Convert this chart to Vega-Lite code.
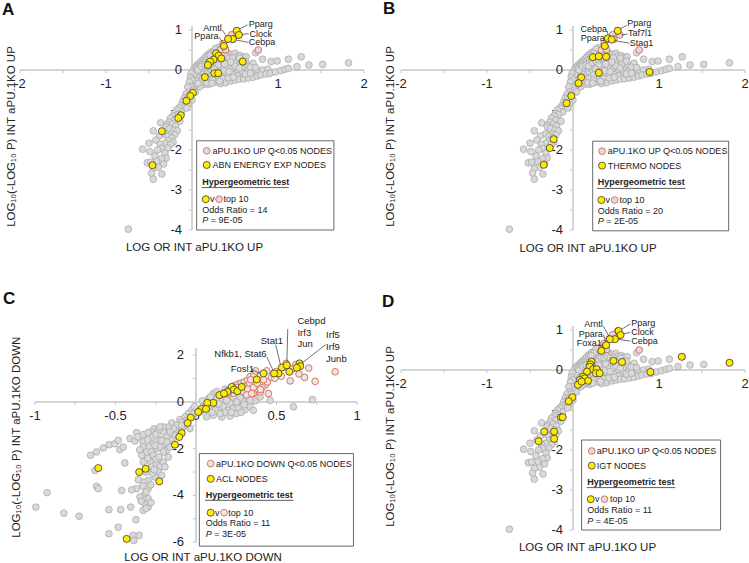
{
"$schema":"https://vega.github.io/schema/vega-lite/v6.json",
"padding":{"left":2,"top":0,"right":0,"bottom":0},
"config":{"font":"Liberation Sans","view":{"stroke":null},"axis":{"titleFontSize":11.5,"titleFontWeight":"normal","titleColor":"#222","domain":false,"ticks":false,"labels":false,"grid":false,"titleBaseline":"middle"},"title":{"color":"#111","fontSize":17,"fontWeight":"bold","anchor":"start","frame":"group","baseline":"alphabetic"}},
"datasets":{
"one":[{}],
"up":[{"x":0.02,"y":0.03},{"x":0.04,"y":0.08},{"x":0.06,"y":0.12},{"x":0.08,"y":0.16},{"x":0.1,"y":0.2},{"x":0.12,"y":0.24},{"x":0.14,"y":0.28},{"x":0.16,"y":0.33},{"x":0.18,"y":0.37},{"x":0.2,"y":0.4},{"x":0.22,"y":0.44},{"x":0.25,"y":0.47},{"x":0.28,"y":0.5},{"x":0.31,"y":0.53},{"x":0.34,"y":0.5},{"x":0.38,"y":0.45},{"x":0.42,"y":0.42},{"x":0.46,"y":0.38},{"x":0.5,"y":0.42},{"x":0.52,"y":0.34},{"x":0.56,"y":0.36},{"x":0.6,"y":0.32},{"x":0.63,"y":0.33},{"x":0.54,"y":0.25},{"x":0.49,"y":0.21},{"x":0.45,"y":0.27},{"x":0.41,"y":0.32},{"x":0.37,"y":0.36},{"x":0.33,"y":0.4},{"x":0.29,"y":0.43},{"x":0.26,"y":0.38},{"x":0.23,"y":0.33},{"x":0.2,"y":0.29},{"x":0.17,"y":0.24},{"x":0.14,"y":0.19},{"x":0.11,"y":0.14},{"x":0.08,"y":0.09},{"x":0.06,"y":0.04},{"x":0.1,"y":0.06},{"x":0.13,"y":0.1},{"x":0.16,"y":0.15},{"x":0.19,"y":0.19},{"x":0.22,"y":0.22},{"x":0.26,"y":0.26},{"x":0.3,"y":0.3},{"x":0.34,"y":0.25},{"x":0.38,"y":0.22},{"x":0.42,"y":0.2},{"x":0.44,"y":0.12},{"x":0.4,"y":0.1},{"x":0.36,"y":0.12},{"x":0.32,"y":0.16},{"x":0.28,"y":0.17},{"x":0.24,"y":0.13},{"x":0.2,"y":0.09},{"x":0.16,"y":0.05},{"x":0.12,"y":0.0},{"x":0.09,"y":-0.04},{"x":0.14,"y":-0.05},{"x":0.18,"y":0.0},{"x":0.22,"y":0.04},{"x":0.27,"y":0.07},{"x":0.31,"y":0.06},{"x":0.35,"y":0.04},{"x":0.41,"y":0.08},{"x":0.47,"y":0.04},{"x":0.53,"y":0.0},{"x":0.59,"y":-0.04},{"x":0.65,"y":0.0},{"x":0.71,"y":0.0},{"x":0.76,"y":-0.02},{"x":0.82,"y":0.0},{"x":0.88,"y":0.02},{"x":0.59,"y":0.08},{"x":0.65,"y":0.12},{"x":0.71,"y":0.17},{"x":0.57,"y":0.15},{"x":0.5,"y":0.1},{"x":0.47,"y":-0.1},{"x":0.53,"y":-0.15},{"x":0.4,"y":-0.07},{"x":0.33,"y":-0.12},{"x":0.27,"y":-0.1},{"x":0.21,"y":-0.06},{"x":0.17,"y":-0.1},{"x":0.12,"y":-0.12},{"x":0.06,"y":-0.08},{"x":0.03,"y":-0.12},{"x":0.08,"y":-0.2},{"x":0.14,"y":-0.18},{"x":0.2,"y":-0.17},{"x":0.25,"y":-0.2},{"x":0.3,"y":-0.23},{"x":0.36,"y":-0.22},{"x":0.27,"y":-0.3},{"x":0.21,"y":-0.28},{"x":0.15,"y":-0.27},{"x":0.1,"y":-0.3},{"x":0.05,"y":-0.27},{"x":0.13,"y":-0.36},{"x":0.19,"y":-0.36},{"x":0.09,"y":-0.42},{"x":0.04,"y":-0.38},{"x":0.39,"y":-0.32},{"x":0.33,"y":-0.34},{"x":0.45,"y":-0.275},{"x":0.5,"y":-0.25},{"x":0.55,"y":-0.23},{"x":0.6,"y":-0.22},{"x":0.655,"y":-0.2},{"x":0.71,"y":-0.18},{"x":0.76,"y":-0.15},{"x":0.8,"y":-0.125},{"x":0.86,"y":-0.1},{"x":0.91,"y":-0.083},{"x":0.97,"y":-0.05},{"x":1.03,"y":-0.017},{"x":1.08,"y":0.017},{"x":1.12,"y":0.04},{"x":1.22,"y":0.083},{"x":0.74,"y":0.43},{"x":0.82,"y":0.27},{"x":0.92,"y":0.21},{"x":0.99,"y":0.225},{"x":1.12,"y":0.27},{"x":1.27,"y":0.33},{"x":1.36,"y":0.125},{"x":1.52,"y":0.14},{"x":1.82,"y":0.18},{"x":0.3,"y":0.56},{"x":0.27,"y":0.53},{"x":0.07,"y":0.0},{"x":0.11,"y":0.09},{"x":0.15,"y":0.12},{"x":0.18,"y":0.1},{"x":0.23,"y":0.18},{"x":0.27,"y":0.21},{"x":0.3,"y":0.25},{"x":0.33,"y":0.31},{"x":0.36,"y":0.3},{"x":0.39,"y":0.35},{"x":0.43,"y":0.3},{"x":0.47,"y":0.3},{"x":0.45,"y":0.2},{"x":0.38,"y":0.15},{"x":0.3,"y":0.12},{"x":0.26,"y":0.02},{"x":0.3,"y":-0.05},{"x":0.37,"y":-0.02},{"x":0.43,"y":-0.04},{"x":0.24,"y":-0.12},{"x":0.18,"y":-0.22},{"x":0.24,"y":-0.25},{"x":0.32,"y":-0.28},{"x":0.42,"y":-0.2},{"x":0.48,"y":-0.18},{"x":0.12,"y":-0.22},{"x":0.07,"y":-0.33},{"x":0.17,"y":-0.32},{"x":0.23,"y":-0.33},{"x":0.35,"y":0.44},{"x":0.24,"y":0.42},{"x":0.21,"y":0.36},{"x":0.55,"y":0.3},{"x":0.62,"y":0.22},{"x":0.68,"y":0.07},{"x":0.74,"y":0.06},{"x":0.55,"y":0.05},{"x":0.62,"y":-0.1},{"x":0.68,"y":-0.08},{"x":-0.01,"y":-0.08},{"x":-0.02,"y":-0.18},{"x":0.0,"y":-0.25},{"x":-0.03,"y":-0.3},{"x":-0.01,"y":-0.42},{"x":-0.05,"y":-0.42},{"x":-0.04,"y":-0.55},{"x":-0.07,"y":-0.6},{"x":-0.09,"y":-0.7},{"x":-0.06,"y":-0.72},{"x":-0.11,"y":-0.8},{"x":-0.08,"y":-0.85},{"x":-0.13,"y":-0.9},{"x":-0.1,"y":-0.95},{"x":-0.15,"y":-0.95},{"x":-0.12,"y":-1.05},{"x":-0.18,"y":-1.0},{"x":-0.2,"y":-1.08},{"x":-0.17,"y":-1.12},{"x":-0.22,"y":-1.15},{"x":-0.25,"y":-1.2},{"x":-0.2,"y":-1.25},{"x":-0.14,"y":-1.28},{"x":-0.27,"y":-1.3},{"x":-0.23,"y":-1.35},{"x":-0.365,"y":-1.32},{"x":-0.295,"y":-1.375},{"x":-0.3,"y":-1.42},{"x":-0.19,"y":-1.4},{"x":-0.26,"y":-1.46},{"x":-0.45,"y":-1.52},{"x":-0.21,"y":-1.5},{"x":-0.17,"y":-1.52},{"x":-0.32,"y":-1.6},{"x":-0.24,"y":-1.6},{"x":-0.2,"y":-1.62},{"x":-0.38,"y":-1.65},{"x":-0.28,"y":-1.66},{"x":-0.237,"y":-1.7},{"x":-0.42,"y":-1.75},{"x":-0.276,"y":-1.76},{"x":-0.22,"y":-1.8},{"x":-0.5,"y":-1.83},{"x":-0.315,"y":-1.83},{"x":-0.37,"y":-1.86},{"x":-0.25,"y":-1.86},{"x":-0.28,"y":-1.95},{"x":-0.353,"y":-1.96},{"x":-0.575,"y":-1.98},{"x":-0.4,"y":-2.0},{"x":-0.49,"y":-2.04},{"x":-0.315,"y":-2.08},{"x":-0.43,"y":-2.15},{"x":-0.3,"y":-2.2},{"x":-0.353,"y":-2.22},{"x":-0.41,"y":-2.29},{"x":-0.52,"y":-2.32},{"x":-0.48,"y":-2.3},{"x":-0.33,"y":-2.35},{"x":-0.39,"y":-2.43},{"x":-0.45,"y":-2.46},{"x":-0.47,"y":-2.58},{"x":-0.35,"y":-2.6},{"x":-0.45,"y":-2.73},{"x":-0.74,"y":-3.98},{"x":0.02,"y":-0.5},{"x":0.04,"y":-0.55},{"x":-0.02,"y":-0.6},{"x":0.0,"y":-0.75},{"x":-0.04,"y":-0.85},{"x":-0.06,"y":-0.95}],
"upq":[{"x":0.52,"y":0.98},{"x":0.545,"y":0.875},{"x":0.46,"y":0.88},{"x":0.475,"y":0.775},{"x":0.42,"y":0.775},{"x":0.36,"y":0.66},{"x":0.37,"y":0.6},{"x":0.33,"y":0.5},{"x":0.39,"y":0.51},{"x":0.77,"y":0.5}],
"a_y":[{"x":0.52,"y":0.98},{"x":0.545,"y":0.875},{"x":0.475,"y":0.775},{"x":0.42,"y":0.775},{"x":0.37,"y":0.6},{"x":0.28,"y":0.42},{"x":0.31,"y":0.36},{"x":0.34,"y":0.29},{"x":0.25,"y":0.26},{"x":0.21,"y":0.21},{"x":0.185,"y":0.125},{"x":0.26,"y":-0.08},{"x":0.305,"y":-0.08},{"x":0.15,"y":-0.18},{"x":0.59,"y":0.21},{"x":0.01,"y":-0.57},{"x":-0.02,"y":-0.65},{"x":-0.065,"y":-0.77},{"x":-0.13,"y":-1.13},{"x":-0.16,"y":-1.2},{"x":-0.35,"y":-1.53},{"x":-0.46,"y":-2.38}],
"b_y":[{"x":0.52,"y":0.98},{"x":0.405,"y":0.79},{"x":0.45,"y":0.76},{"x":0.37,"y":0.6},{"x":0.23,"y":0.32},{"x":0.3,"y":0.34},{"x":0.385,"y":0.33},{"x":0.3,"y":-0.07},{"x":0.89,"y":-0.05},{"x":0.095,"y":-0.185},{"x":0.065,"y":-0.33},{"x":-0.02,"y":-0.65},{"x":-0.075,"y":-0.83},{"x":-0.225,"y":-1.73},{"x":-0.27,"y":-1.95},{"x":-0.34,"y":-2.37}],
"d_y":[{"x":0.53,"y":0.975},{"x":0.553,"y":0.875},{"x":0.487,"y":0.77},{"x":0.428,"y":0.77},{"x":0.385,"y":0.62},{"x":0.33,"y":0.48},{"x":0.215,"y":0.21},{"x":0.2,"y":0.14},{"x":0.195,"y":0.08},{"x":0.233,"y":0.017},{"x":0.275,"y":0.02},{"x":0.265,"y":-0.08},{"x":0.31,"y":-0.08},{"x":0.163,"y":-0.04},{"x":0.117,"y":-0.17},{"x":0.137,"y":-0.21},{"x":0.078,"y":-0.25},{"x":0.175,"y":-0.27},{"x":0.058,"y":-0.37},{"x":0.1,"y":-0.29},{"x":0.47,"y":0.23},{"x":0.57,"y":0.2},{"x":1.265,"y":0.33},{"x":1.82,"y":0.18},{"x":0.9,"y":-0.05},{"x":-0.007,"y":-0.68},{"x":-0.05,"y":-0.78},{"x":-0.14,"y":-1.18},{"x":-0.12,"y":-1.18},{"x":-0.22,"y":-1.54},{"x":-0.22,"y":-1.72},{"x":-0.335,"y":-1.54},{"x":-0.4,"y":-1.78}],
"dn":[{"x":0.046,"y":-0.1},{"x":0.077,"y":-0.21},{"x":0.108,"y":-0.14},{"x":0.139,"y":-0.29},{"x":0.17,"y":-0.19},{"x":0.2,"y":-0.36},{"x":0.232,"y":-0.26},{"x":0.263,"y":-0.39},{"x":0.305,"y":-0.33},{"x":0.336,"y":-0.21},{"x":0.211,"y":-0.04},{"x":0.253,"y":-0.07},{"x":0.294,"y":0.0},{"x":0.149,"y":0.07},{"x":0.19,"y":0.14},{"x":0.232,"y":0.21},{"x":0.274,"y":0.19},{"x":0.325,"y":0.14},{"x":0.367,"y":0.04},{"x":0.108,"y":-0.57},{"x":0.16,"y":-0.64},{"x":0.211,"y":-0.61},{"x":0.066,"y":-0.64},{"x":0.025,"y":-0.43},{"x":0.605,"y":-0.21},{"x":0.723,"y":0.1},{"x":0.398,"y":0.21},{"x":0.46,"y":0.07},{"x":0.108,"y":0.36},{"x":0.077,"y":0.14},{"x":0.129,"y":0.15},{"x":0.19,"y":0.07},{"x":0.253,"y":0.0},{"x":0.336,"y":0.07},{"x":0.263,"y":-0.28},{"x":0.356,"y":-0.36},{"x":0.04,"y":0.05},{"x":0.09,"y":0.22},{"x":0.13,"y":0.45},{"x":0.18,"y":0.55},{"x":0.12,"y":-0.35},{"x":0.18,"y":-0.45},{"x":0.25,"y":-0.5},{"x":0.3,"y":-0.12},{"x":0.15,"y":-0.5},{"x":0.22,"y":-0.45},{"x":0.28,"y":-0.45},{"x":0.1,"y":-0.45},{"x":0.06,"y":-0.2},{"x":0.14,"y":-0.08},{"x":-0.1,"y":-0.75},{"x":-0.075,"y":-1.05},{"x":-0.15,"y":-0.9},{"x":-0.19,"y":-1.18},{"x":-0.11,"y":-1.25},{"x":-0.16,"y":-1.4},{"x":-0.26,"y":-1.15},{"x":-0.28,"y":-1.28},{"x":-0.027,"y":-0.36},{"x":-0.048,"y":-0.5},{"x":-0.068,"y":-0.64},{"x":-0.089,"y":-0.86},{"x":-0.058,"y":-0.79},{"x":-0.027,"y":-0.64},{"x":-0.12,"y":-1.0},{"x":-0.089,"y":-1.14},{"x":-0.14,"y":-1.14},{"x":-0.172,"y":-1.07},{"x":-0.203,"y":-1.07},{"x":-0.162,"y":-1.29},{"x":-0.13,"y":-1.43},{"x":-0.203,"y":-1.29},{"x":-0.234,"y":-1.21},{"x":-0.182,"y":-1.5},{"x":-0.151,"y":-1.64},{"x":-0.224,"y":-1.61},{"x":-0.265,"y":-1.79},{"x":-0.245,"y":-2.0},{"x":-0.203,"y":-1.81},{"x":-0.224,"y":-1.07},{"x":-0.089,"y":-1.0},{"x":-0.037,"y":-1.14},{"x":-0.01,"y":-0.2},{"x":-0.015,"y":-0.5},{"x":-0.369,"y":-1.31},{"x":-0.328,"y":-1.4},{"x":-0.297,"y":-1.31},{"x":-0.41,"y":-1.57},{"x":-0.38,"y":-1.67},{"x":-0.33,"y":-1.71},{"x":-0.328,"y":-1.93},{"x":-0.29,"y":-1.93},{"x":-0.307,"y":-2.14},{"x":-0.276,"y":-2.14},{"x":-0.265,"y":-2.28},{"x":-0.338,"y":-2.28},{"x":-0.328,"y":-2.57},{"x":-0.282,"y":-2.57},{"x":-0.276,"y":-2.78},{"x":-0.245,"y":-2.64},{"x":-0.224,"y":-2.78},{"x":-0.203,"y":-2.57},{"x":-0.193,"y":-2.78},{"x":-0.234,"y":-3.0},{"x":-0.213,"y":-3.14},{"x":-0.255,"y":-3.21},{"x":-0.297,"y":-3.36},{"x":-0.328,"y":-3.43},{"x":-0.297,"y":-3.71},{"x":-0.317,"y":-3.93},{"x":-0.297,"y":-4.14},{"x":-0.317,"y":-4.36},{"x":-0.297,"y":-4.5},{"x":-0.328,"y":-4.64},{"x":-0.348,"y":-4.07},{"x":-0.369,"y":-3.71},{"x":-0.359,"y":-3.33},{"x":-0.224,"y":-1.93},{"x":-0.182,"y":-2.07},{"x":-0.162,"y":-1.93},{"x":-0.203,"y":-2.14},{"x":-0.172,"y":-2.36},{"x":-0.182,"y":-1.71},{"x":-0.213,"y":-1.64},{"x":-0.255,"y":-1.86},{"x":-0.655,"y":-2.28},{"x":-0.618,"y":-2.14},{"x":-0.576,"y":-1.97},{"x":-0.539,"y":-1.83},{"x":-0.504,"y":-1.79},{"x":-0.483,"y":-1.64},{"x":-0.473,"y":-2.04},{"x":-0.452,"y":-1.93},{"x":-0.442,"y":-2.61},{"x":-0.628,"y":-2.93},{"x":-0.618,"y":-3.61},{"x":-0.607,"y":-3.71},{"x":-0.462,"y":-3.79},{"x":-0.4,"y":-3.76},{"x":-0.925,"y":-3.88},{"x":-0.995,"y":-4.5},{"x":-0.821,"y":-4.76},{"x":-0.726,"y":-4.89},{"x":-0.541,"y":-4.61},{"x":-0.468,"y":-4.61},{"x":-0.406,"y":-4.5},{"x":-0.373,"y":-5.04},{"x":-0.483,"y":-5.36},{"x":-0.541,"y":-5.64},{"x":-0.39,"y":-5.71},{"x":-0.353,"y":-5.71},{"x":-0.386,"y":-5.93},{"x":-0.31,"y":-3.0},{"x":-0.27,"y":-3.05},{"x":-0.33,"y":-3.6},{"x":-0.28,"y":-3.55},{"x":-0.31,"y":-3.85},{"x":-0.34,"y":-4.25},{"x":-0.28,"y":-4.3},{"x":-0.31,"y":-4.55},{"x":-0.25,"y":-2.45},{"x":-0.3,"y":-2.4},{"x":-0.35,"y":-2.05},{"x":-0.36,"y":-1.5},{"x":-0.27,"y":-1.5},{"x":-0.3,"y":-1.62},{"x":-0.25,"y":-1.4},{"x":-0.23,"y":-2.35},{"x":-0.26,"y":-2.9}],
"dnq":[{"x":0.15,"y":0.3},{"x":0.18,"y":0.4},{"x":0.2,"y":0.5},{"x":0.22,"y":0.57},{"x":0.24,"y":0.7},{"x":0.26,"y":0.76},{"x":0.28,"y":0.8},{"x":0.3,"y":0.86},{"x":0.32,"y":0.92},{"x":0.33,"y":0.75},{"x":0.3,"y":0.65},{"x":0.27,"y":0.55},{"x":0.25,"y":0.45},{"x":0.23,"y":0.37},{"x":0.29,"y":0.45},{"x":0.32,"y":0.55},{"x":0.357,"y":0.62},{"x":0.357,"y":0.36},{"x":0.4,"y":0.43},{"x":0.43,"y":0.72},{"x":0.45,"y":0.36},{"x":0.443,"y":0.86},{"x":0.38,"y":0.8},{"x":0.336,"y":1.08},{"x":0.36,"y":1.15},{"x":0.37,"y":1.33},{"x":0.4,"y":1.12},{"x":0.44,"y":1.33},{"x":0.47,"y":1.05},{"x":0.49,"y":1.01},{"x":0.5,"y":1.3},{"x":0.53,"y":1.1},{"x":0.55,"y":1.5},{"x":0.585,"y":0.9},{"x":0.6,"y":1.42},{"x":0.62,"y":1.6},{"x":0.64,"y":1.2},{"x":0.674,"y":1.05},{"x":0.7,"y":1.45},{"x":0.74,"y":0.88},{"x":0.864,"y":1.29},{"x":0.56,"y":1.65},{"x":0.41,"y":0.6},{"x":0.4,"y":0.53},{"x":0.315,"y":0.3},{"x":0.346,"y":0.36},{"x":0.2,"y":0.35},{"x":0.26,"y":0.62},{"x":0.34,"y":0.95},{"x":0.42,"y":0.95}],
"c_y":[{"x":0.533,"y":1.47},{"x":0.564,"y":1.57},{"x":0.643,"y":1.65},{"x":0.647,"y":1.53},{"x":0.626,"y":1.46},{"x":0.58,"y":1.29},{"x":0.512,"y":1.22},{"x":0.485,"y":1.22},{"x":0.419,"y":1.22},{"x":0.377,"y":0.96},{"x":0.222,"y":0.64},{"x":0.236,"y":0.53},{"x":0.195,"y":0.43},{"x":0.257,"y":0.46},{"x":0.284,"y":0.64},{"x":0.145,"y":0.29},{"x":0.174,"y":0.36},{"x":0.108,"y":-0.04},{"x":0.07,"y":-0.04},{"x":0.035,"y":-0.3},{"x":0.062,"y":-0.3},{"x":0.014,"y":-0.43},{"x":-0.033,"y":-0.67},{"x":-0.052,"y":-0.9},{"x":-0.089,"y":-1.33},{"x":-0.104,"y":-1.5},{"x":-0.131,"y":-1.83},{"x":-0.607,"y":-2.83},{"x":-0.353,"y":-3.0},{"x":-0.313,"y":-2.86},{"x":-0.228,"y":-3.4},{"x":-0.431,"y":-5.86}],
"a_lab":[{"label":"Pparg","x":0.66,"y":1.15,"s":"L"},{"label":"Clock","x":0.67,"y":0.91,"s":"L"},{"label":"Cebpa","x":0.66,"y":0.69,"s":"L"},{"label":"Arntl","x":0.346,"y":1.06,"s":"R"},{"label":"Ppara","x":0.307,"y":0.84,"s":"R"}],
"a_ln":[{"x":0.53,"y":1.0,"x2":0.645,"y2":1.13},{"x":0.555,"y":0.88,"x2":0.66,"y2":0.91},{"x":0.48,"y":0.765,"x2":0.655,"y2":0.69},{"x":0.42,"y":0.79,"x2":0.35,"y2":1.0},{"x":0.366,"y":0.66,"x2":0.315,"y2":0.82}],
"b_lab":[{"label":"Pparg","x":0.63,"y":1.17,"s":"L"},{"label":"Taf7l1","x":0.64,"y":0.92,"s":"L"},{"label":"Stag1","x":0.66,"y":0.67,"s":"L"},{"label":"Cebpa","x":0.396,"y":1.025,"s":"R"},{"label":"Ppara","x":0.369,"y":0.8,"s":"R"}],
"b_ln":[{"x":0.525,"y":1.0,"x2":0.625,"y2":1.12},{"x":0.56,"y":0.875,"x2":0.635,"y2":0.9},{"x":0.46,"y":0.745,"x2":0.655,"y2":0.67},{"x":0.415,"y":0.82,"x2":0.396,"y2":0.98},{"x":0.377,"y":0.63,"x2":0.377,"y2":0.76}],
"d_lab":[{"label":"Pparg","x":0.677,"y":1.175,"s":"L"},{"label":"Clock","x":0.677,"y":0.955,"s":"L"},{"label":"Cebpa","x":0.677,"y":0.725,"s":"L"},{"label":"Arntl","x":0.346,"y":1.145,"s":"R"},{"label":"Ppara","x":0.346,"y":0.91,"s":"R"},{"label":"Foxa1","x":0.335,"y":0.68,"s":"R"}],
"d_ln":[{"x":0.55,"y":1.0,"x2":0.665,"y2":1.15},{"x":0.575,"y":0.89,"x2":0.665,"y2":0.945},{"x":0.51,"y":0.77,"x2":0.665,"y2":0.725},{"x":0.43,"y":0.79,"x2":0.355,"y2":1.09},{"x":0.39,"y":0.63,"x2":0.355,"y2":0.88},{"x":0.345,"y":0.5,"x2":0.345,"y2":0.655}],
"c_lab":[{"label":"Cebpd","x":0.63,"y":3.46},{"label":"Irf3","x":0.63,"y":2.95},{"label":"Jun","x":0.63,"y":2.48},{"label":"Irf5","x":0.808,"y":2.87},{"label":"Irf9","x":0.808,"y":2.37},{"label":"Junb","x":0.808,"y":1.84},{"label":"Stat1","x":0.402,"y":2.59},{"label":"Nfkb1, Stat6","x":0.114,"y":2.06},{"label":"Fosl1","x":0.216,"y":1.41}],
"c_ln":[{"x":0.564,"y":1.6,"x2":0.57,"y2":3.12},{"x":0.655,"y":1.64,"x2":0.805,"y2":2.45},{"x":0.527,"y":1.52,"x2":0.495,"y2":2.45},{"x":0.483,"y":1.28,"x2":0.44,"y2":1.93},{"x":0.408,"y":1.19,"x2":0.346,"y2":1.39}],
"up_xm":[{"x":-2},{"x":-1.5},{"x":-1},{"x":-0.5},{"x":0.5},{"x":1},{"x":1.5},{"x":2}],
"up_ym":[{"y":-4},{"y":-3.5},{"y":-3},{"y":-2.5},{"y":-2},{"y":-1.5},{"y":-1},{"y":-0.5},{"y":0.5},{"y":1}],
"up_xt":[{"x":-2,"t":"-2"},{"x":-1,"t":"-1"},{"x":0,"t":"0"},{"x":1,"t":"1"},{"x":2,"t":"2"}],
"up_yt":[{"y":1,"t":"1"},{"y":0,"t":"0"},{"y":-1,"t":"-1"},{"y":-2,"t":"-2"},{"y":-3,"t":"-3"},{"y":-4,"t":"-4"}],
"dn_xm":[{"x":-1},{"x":-0.75},{"x":-0.5},{"x":-0.25},{"x":0.25},{"x":0.5},{"x":0.75},{"x":1}],
"dn_ym":[{"y":-6},{"y":-5},{"y":-4},{"y":-3},{"y":-2},{"y":-1},{"y":1},{"y":2}],
"dn_xt":[{"x":-1,"t":"-1"},{"x":-0.5,"t":"-0.5"},{"x":0,"t":"0"},{"x":0.5,"t":"0.5"},{"x":1,"t":"1"}],
"dn_yt":[{"y":2,"t":"2"},{"y":0,"t":"0"},{"y":-2,"t":"-2"},{"y":-4,"t":"-4"},{"y":-6,"t":"-6"}]
},
"bounds":"flush",
"columns":2,
"spacing":{"row":92,"column":37},
"concat":[
{"width":344,"height":208,"title":{"text":"A","dx":-18,"offset":1},"data":{"name":"one"},
"layer":[
{"mark":{"type":"rule","color":"#c6c6c6","strokeWidth":1.5},"encoding":{"x":{"datum":-2},"x2":{"datum":2},"y":{"datum":0}}},
{"mark":{"type":"rule","color":"#c6c6c6","strokeWidth":1.5},"encoding":{"x":{"datum":0},"y":{"datum":-4},"y2":{"datum":1.1}}},
{"data":{"name":"up_xm"},"mark":{"type":"rule","color":"#c6c6c6","strokeWidth":1},"encoding":{"x":{"field":"x","type":"quantitative"},"y":{"datum":0},"y2":{"datum":-0.08}}},
{"data":{"name":"up_ym"},"mark":{"type":"rule","color":"#c6c6c6","strokeWidth":1},"encoding":{"y":{"field":"y","type":"quantitative"},"x":{"datum":-0.04},"x2":{"datum":0}}},
{"data":{"name":"up_xt"},"mark":{"type":"text","dy":14,"fontSize":13,"color":"#222"},"encoding":{"x":{"field":"x","type":"quantitative"},"y":{"datum":0},"text":{"field":"t"}}},
{"data":{"name":"up_yt"},"mark":{"type":"text","dx":-10,"align":"right","baseline":"middle","fontSize":13,"color":"#222"},"encoding":{"y":{"field":"y","type":"quantitative"},"x":{"datum":0},"text":{"field":"t"}}},
{"data":{"name":"up"},"mark":{"type":"circle","size":45,"opacity":1,"fill":"#d9d9d9","stroke":"#a3a3a3","strokeWidth":0.7},"encoding":{"x":{"field":"x","type":"quantitative","scale":{"domain":[-2,2],"nice":false,"zero":false},"axis":{"title":"LOG OR INT aPU.1KO UP","titleX":174,"titleY":17}},"y":{"field":"y","type":"quantitative","scale":{"domain":[-4,1.2],"nice":false,"zero":false},"axis":{"title":"LOG₁₀(-LOG₁₀ P) INT aPU.1KO UP","titleX":-9,"titleY":114}}}},
{"data":{"name":"upq"},"mark":{"type":"circle","size":45,"opacity":1,"fill":"#dcdcdc","stroke":"#e2735f","strokeWidth":1},"encoding":{"x":{"field":"x","type":"quantitative"},"y":{"field":"y","type":"quantitative"}}},
{"data":{"name":"a_ln"},"mark":{"type":"rule","color":"#333","strokeWidth":0.7},"encoding":{"x":{"field":"x","type":"quantitative"},"y":{"field":"y","type":"quantitative"},"x2":{"field":"x2"},"y2":{"field":"y2"}}},
{"data":{"name":"a_y"},"mark":{"type":"circle","size":50,"opacity":1,"fill":"#ffea00","stroke":"#3a3a3a","strokeWidth":0.8},"encoding":{"x":{"field":"x","type":"quantitative"},"y":{"field":"y","type":"quantitative"}}},
{"data":{"name":"a_lab"},"transform":[{"filter":"datum.s=='L'"}],"mark":{"type":"text","align":"left","baseline":"middle","fontSize":9,"color":"#222"},"encoding":{"x":{"field":"x","type":"quantitative"},"y":{"field":"y","type":"quantitative"},"text":{"field":"label"}}},
{"data":{"name":"a_lab"},"transform":[{"filter":"datum.s=='R'"}],"mark":{"type":"text","align":"right","baseline":"middle","fontSize":9,"color":"#222"},"encoding":{"x":{"field":"x","type":"quantitative"},"y":{"field":"y","type":"quantitative"},"text":{"field":"label"}}},
{"mark":{"type":"rect","fill":"white","stroke":"#444","strokeWidth":0.8},"encoding":{"x":{"datum":0.054},"x2":{"datum":1.65},"y":{"datum":-1.77},"y2":{"datum":-4.0}}},
{"mark":{"type":"circle","size":45,"opacity":1,"fill":"#dcdcdc","stroke":"#e2735f","strokeWidth":1},"encoding":{"x":{"datum":0.171},"y":{"datum":-2.02}}},
{"mark":{"type":"text","align":"left","baseline":"middle","fontSize":9,"color":"#222"},"encoding":{"x":{"datum":0.237},"y":{"datum":-2.02},"text":{"value":"aPU.1KO UP Q<0.05 NODES"}}},
{"mark":{"type":"circle","size":50,"opacity":1,"fill":"#ffea00","stroke":"#3a3a3a","strokeWidth":0.8},"encoding":{"x":{"datum":0.171},"y":{"datum":-2.375}}},
{"mark":{"type":"text","align":"left","baseline":"middle","fontSize":9,"color":"#222"},"encoding":{"x":{"datum":0.237},"y":{"datum":-2.375},"text":{"value":"ABN ENERGY EXP NODES"}}},
{"mark":{"type":"text","align":"left","baseline":"middle","fontSize":9,"fontWeight":"bold","color":"#222"},"encoding":{"x":{"datum":0.12},"y":{"datum":-2.79},"text":{"value":"Hypergeometric test"}}},
{"mark":{"type":"rule","color":"#333","strokeWidth":0.8},"encoding":{"x":{"datum":0.113},"x2":{"datum":1.125},"y":{"datum":-2.94}}},
{"mark":{"type":"circle","size":50,"opacity":1,"fill":"#ffea00","stroke":"#3a3a3a","strokeWidth":0.8},"encoding":{"x":{"datum":0.16},"y":{"datum":-3.23}}},
{"mark":{"type":"text","align":"left","baseline":"middle","fontSize":9,"color":"#222"},"encoding":{"x":{"datum":0.21},"y":{"datum":-3.23},"text":{"value":"v"}}},
{"mark":{"type":"circle","size":45,"opacity":1,"fill":"#dcdcdc","stroke":"#e2735f","strokeWidth":1},"encoding":{"x":{"datum":0.315},"y":{"datum":-3.23}}},
{"mark":{"type":"text","align":"left","baseline":"middle","fontSize":9,"color":"#222"},"encoding":{"x":{"datum":0.366},"y":{"datum":-3.23},"text":{"value":"top 10"}}},
{"mark":{"type":"text","align":"left","baseline":"middle","fontSize":9,"color":"#222"},"encoding":{"x":{"datum":0.12},"y":{"datum":-3.49},"text":{"value":"Odds Ratio = 14"}}},
{"mark":{"type":"text","align":"left","baseline":"middle","fontSize":9,"fontStyle":"italic","color":"#222"},"encoding":{"x":{"datum":0.12},"y":{"datum":-3.75},"text":{"value":"P"}}},
{"mark":{"type":"text","align":"left","baseline":"middle","fontSize":9,"dx":8.5,"color":"#222"},"encoding":{"x":{"datum":0.12},"y":{"datum":-3.75},"text":{"value":"= 9E-05"}}}
]},
{"width":344,"height":208,"title":{"text":"B","dx":-18,"offset":1},"data":{"name":"one"},
"layer":[
{"mark":{"type":"rule","color":"#c6c6c6","strokeWidth":1.5},"encoding":{"x":{"datum":-2},"x2":{"datum":2},"y":{"datum":0}}},
{"mark":{"type":"rule","color":"#c6c6c6","strokeWidth":1.5},"encoding":{"x":{"datum":0},"y":{"datum":-4},"y2":{"datum":1.1}}},
{"data":{"name":"up_xm"},"mark":{"type":"rule","color":"#c6c6c6","strokeWidth":1},"encoding":{"x":{"field":"x","type":"quantitative"},"y":{"datum":0},"y2":{"datum":-0.08}}},
{"data":{"name":"up_ym"},"mark":{"type":"rule","color":"#c6c6c6","strokeWidth":1},"encoding":{"y":{"field":"y","type":"quantitative"},"x":{"datum":-0.04},"x2":{"datum":0}}},
{"data":{"name":"up_xt"},"mark":{"type":"text","dy":14,"fontSize":13,"color":"#222"},"encoding":{"x":{"field":"x","type":"quantitative"},"y":{"datum":0},"text":{"field":"t"}}},
{"data":{"name":"up_yt"},"mark":{"type":"text","dx":-10,"align":"right","baseline":"middle","fontSize":13,"color":"#222"},"encoding":{"y":{"field":"y","type":"quantitative"},"x":{"datum":0},"text":{"field":"t"}}},
{"data":{"name":"up"},"mark":{"type":"circle","size":45,"opacity":1,"fill":"#d9d9d9","stroke":"#a3a3a3","strokeWidth":0.7},"encoding":{"x":{"field":"x","type":"quantitative","scale":{"domain":[-2,2],"nice":false,"zero":false},"axis":{"title":"LOG OR INT aPU.1KO UP","titleX":186.5,"titleY":18}},"y":{"field":"y","type":"quantitative","scale":{"domain":[-4,1.2],"nice":false,"zero":false},"axis":{"title":"LOG₁₀(-LOG₁₀ P) INT aPU.1KO UP","titleX":-11,"titleY":114}}}},
{"data":{"name":"upq"},"mark":{"type":"circle","size":45,"opacity":1,"fill":"#dcdcdc","stroke":"#e2735f","strokeWidth":1},"encoding":{"x":{"field":"x","type":"quantitative"},"y":{"field":"y","type":"quantitative"}}},
{"data":{"name":"b_ln"},"mark":{"type":"rule","color":"#333","strokeWidth":0.7},"encoding":{"x":{"field":"x","type":"quantitative"},"y":{"field":"y","type":"quantitative"},"x2":{"field":"x2"},"y2":{"field":"y2"}}},
{"data":{"name":"b_y"},"mark":{"type":"circle","size":50,"opacity":1,"fill":"#ffea00","stroke":"#3a3a3a","strokeWidth":0.8},"encoding":{"x":{"field":"x","type":"quantitative"},"y":{"field":"y","type":"quantitative"}}},
{"data":{"name":"b_lab"},"transform":[{"filter":"datum.s=='L'"}],"mark":{"type":"text","align":"left","baseline":"middle","fontSize":9,"color":"#222"},"encoding":{"x":{"field":"x","type":"quantitative"},"y":{"field":"y","type":"quantitative"},"text":{"field":"label"}}},
{"data":{"name":"b_lab"},"transform":[{"filter":"datum.s=='R'"}],"mark":{"type":"text","align":"right","baseline":"middle","fontSize":9,"color":"#222"},"encoding":{"x":{"field":"x","type":"quantitative"},"y":{"field":"y","type":"quantitative"},"text":{"field":"label"}}},
{"mark":{"type":"rect","fill":"white","stroke":"#444","strokeWidth":0.8},"encoding":{"x":{"datum":0.229},"x2":{"datum":1.81},"y":{"datum":-1.78},"y2":{"datum":-4.02}}},
{"mark":{"type":"circle","size":45,"opacity":1,"fill":"#dcdcdc","stroke":"#e2735f","strokeWidth":1},"encoding":{"x":{"datum":0.338},"y":{"datum":-2.03}}},
{"mark":{"type":"text","align":"left","baseline":"middle","fontSize":9,"color":"#222"},"encoding":{"x":{"datum":0.404},"y":{"datum":-2.03},"text":{"value":"aPU.1KO UP Q<0.05 NODES"}}},
{"mark":{"type":"circle","size":50,"opacity":1,"fill":"#ffea00","stroke":"#3a3a3a","strokeWidth":0.8},"encoding":{"x":{"datum":0.338},"y":{"datum":-2.39}}},
{"mark":{"type":"text","align":"left","baseline":"middle","fontSize":9,"color":"#222"},"encoding":{"x":{"datum":0.404},"y":{"datum":-2.39},"text":{"value":"THERMO NODES"}}},
{"mark":{"type":"text","align":"left","baseline":"middle","fontSize":9,"fontWeight":"bold","color":"#222"},"encoding":{"x":{"datum":0.287},"y":{"datum":-2.81},"text":{"value":"Hypergeometric test"}}},
{"mark":{"type":"rule","color":"#333","strokeWidth":0.8},"encoding":{"x":{"datum":0.28},"x2":{"datum":1.31},"y":{"datum":-2.96}}},
{"mark":{"type":"circle","size":50,"opacity":1,"fill":"#ffea00","stroke":"#3a3a3a","strokeWidth":0.8},"encoding":{"x":{"datum":0.33},"y":{"datum":-3.25}}},
{"mark":{"type":"text","align":"left","baseline":"middle","fontSize":9,"color":"#222"},"encoding":{"x":{"datum":0.377},"y":{"datum":-3.25},"text":{"value":"v"}}},
{"mark":{"type":"circle","size":45,"opacity":1,"fill":"#dcdcdc","stroke":"#e2735f","strokeWidth":1},"encoding":{"x":{"datum":0.485},"y":{"datum":-3.25}}},
{"mark":{"type":"text","align":"left","baseline":"middle","fontSize":9,"color":"#222"},"encoding":{"x":{"datum":0.54},"y":{"datum":-3.25},"text":{"value":"top 10"}}},
{"mark":{"type":"text","align":"left","baseline":"middle","fontSize":9,"color":"#222"},"encoding":{"x":{"datum":0.287},"y":{"datum":-3.52},"text":{"value":"Odds Ratio = 20"}}},
{"mark":{"type":"text","align":"left","baseline":"middle","fontSize":9,"fontStyle":"italic","color":"#222"},"encoding":{"x":{"datum":0.287},"y":{"datum":-3.78},"text":{"value":"P"}}},
{"mark":{"type":"text","align":"left","baseline":"middle","fontSize":9,"dx":8.5,"color":"#222"},"encoding":{"x":{"datum":0.287},"y":{"datum":-3.78},"text":{"value":"= 2E-05"}}}
]},
{"width":337,"height":226,"title":{"text":"C","dx":-17,"offset":8},"data":{"name":"one"},
"layer":[
{"mark":{"type":"rule","color":"#c6c6c6","strokeWidth":1.5},"encoding":{"x":{"datum":-1},"x2":{"datum":1},"y":{"datum":0}}},
{"mark":{"type":"rule","color":"#c6c6c6","strokeWidth":1.5},"encoding":{"x":{"datum":0},"y":{"datum":-6},"y2":{"datum":2.3}}},
{"data":{"name":"dn_xm"},"mark":{"type":"rule","color":"#c6c6c6","strokeWidth":1},"encoding":{"x":{"field":"x","type":"quantitative"},"y":{"datum":0},"y2":{"datum":-0.14}}},
{"data":{"name":"dn_ym"},"mark":{"type":"rule","color":"#c6c6c6","strokeWidth":1},"encoding":{"y":{"field":"y","type":"quantitative"},"x":{"datum":-0.02},"x2":{"datum":0}}},
{"data":{"name":"dn_xt"},"mark":{"type":"text","dy":14,"fontSize":13,"color":"#222"},"encoding":{"x":{"field":"x","type":"quantitative"},"y":{"datum":0},"text":{"field":"t"}}},
{"data":{"name":"dn_yt"},"mark":{"type":"text","dx":-12,"align":"right","baseline":"middle","fontSize":13,"color":"#222"},"encoding":{"y":{"field":"y","type":"quantitative"},"x":{"datum":0},"text":{"field":"t"}}},
{"data":{"name":"dn"},"mark":{"type":"circle","size":45,"opacity":1,"fill":"#d9d9d9","stroke":"#a3a3a3","strokeWidth":0.7},"encoding":{"x":{"field":"x","type":"quantitative","scale":{"domain":[-1.0933,1],"nice":false,"zero":false},"axis":{"title":"LOG OR INT aPU.1KO DOWN","titleX":182.5,"titleY":9}},"y":{"field":"y","type":"quantitative","scale":{"domain":[-6.25,3.42],"nice":false,"zero":false},"axis":{"title":"LOG₁₀(-LOG₁₀ P) INT aPU.1KO DOWN","titleX":-4,"titleY":114.7}}}},
{"data":{"name":"dnq"},"mark":{"type":"circle","size":45,"opacity":1,"fill":"#e6e6e6","stroke":"#e2735f","strokeWidth":1},"encoding":{"x":{"field":"x","type":"quantitative"},"y":{"field":"y","type":"quantitative"}}},
{"data":{"name":"c_ln"},"mark":{"type":"rule","color":"#333","strokeWidth":0.7},"encoding":{"x":{"field":"x","type":"quantitative"},"y":{"field":"y","type":"quantitative"},"x2":{"field":"x2"},"y2":{"field":"y2"}}},
{"data":{"name":"c_y"},"mark":{"type":"circle","size":50,"opacity":1,"fill":"#ffea00","stroke":"#3a3a3a","strokeWidth":0.8},"encoding":{"x":{"field":"x","type":"quantitative"},"y":{"field":"y","type":"quantitative"}}},
{"data":{"name":"c_lab"},"mark":{"type":"text","align":"left","baseline":"middle","fontSize":9.5,"color":"#222"},"encoding":{"x":{"field":"x","type":"quantitative"},"y":{"field":"y","type":"quantitative"},"text":{"field":"label"}}},
{"mark":{"type":"rect","fill":"white","stroke":"#444","strokeWidth":0.8},"encoding":{"x":{"datum":0.021},"x2":{"datum":0.978},"y":{"datum":-2.21},"y2":{"datum":-6.17}}},
{"mark":{"type":"circle","size":45,"opacity":1,"fill":"#e6e6e6","stroke":"#e2735f","strokeWidth":1},"encoding":{"x":{"datum":0.091},"y":{"datum":-2.64}}},
{"mark":{"type":"text","align":"left","baseline":"middle","fontSize":9,"color":"#222"},"encoding":{"x":{"datum":0.124},"y":{"datum":-2.64},"text":{"value":"aPU.1KO DOWN Q<0.05 NODES"}}},
{"mark":{"type":"circle","size":50,"opacity":1,"fill":"#ffea00","stroke":"#3a3a3a","strokeWidth":0.8},"encoding":{"x":{"datum":0.091},"y":{"datum":-3.29}}},
{"mark":{"type":"text","align":"left","baseline":"middle","fontSize":9,"color":"#222"},"encoding":{"x":{"datum":0.124},"y":{"datum":-3.29},"text":{"value":"ACL NODES"}}},
{"mark":{"type":"text","align":"left","baseline":"middle","fontSize":9,"fontWeight":"bold","color":"#222"},"encoding":{"x":{"datum":0.06},"y":{"datum":-4.0},"text":{"value":"Hypergeometric test"}}},
{"mark":{"type":"rule","color":"#333","strokeWidth":0.8},"encoding":{"x":{"datum":0.056},"x2":{"datum":0.605},"y":{"datum":-4.21}}},
{"mark":{"type":"circle","size":50,"opacity":1,"fill":"#ffea00","stroke":"#3a3a3a","strokeWidth":0.8},"encoding":{"x":{"datum":0.091},"y":{"datum":-4.74}}},
{"mark":{"type":"text","align":"left","baseline":"middle","fontSize":9,"color":"#222"},"encoding":{"x":{"datum":0.118},"y":{"datum":-4.74},"text":{"value":"v"}}},
{"mark":{"type":"circle","size":45,"opacity":1,"fill":"#e6e6e6","stroke":"#e2735f","strokeWidth":1},"encoding":{"x":{"datum":0.174},"y":{"datum":-4.74}}},
{"mark":{"type":"text","align":"left","baseline":"middle","fontSize":9,"color":"#222"},"encoding":{"x":{"datum":0.2},"y":{"datum":-4.74},"text":{"value":"top 10"}}},
{"mark":{"type":"text","align":"left","baseline":"middle","fontSize":9,"color":"#222"},"encoding":{"x":{"datum":0.06},"y":{"datum":-5.17},"text":{"value":"Odds Ratio = 11"}}},
{"mark":{"type":"text","align":"left","baseline":"middle","fontSize":9,"fontStyle":"italic","color":"#222"},"encoding":{"x":{"datum":0.06},"y":{"datum":-5.64},"text":{"value":"P"}}},
{"mark":{"type":"text","align":"left","baseline":"middle","fontSize":9,"dx":8.5,"color":"#222"},"encoding":{"x":{"datum":0.06},"y":{"datum":-5.64},"text":{"value":"= 3E-05"}}}
]},
{"width":344,"height":208,"title":{"text":"D","dx":-19,"offset":8},"data":{"name":"one"},
"layer":[
{"mark":{"type":"rule","color":"#c6c6c6","strokeWidth":1.5},"encoding":{"x":{"datum":-2},"x2":{"datum":2},"y":{"datum":0}}},
{"mark":{"type":"rule","color":"#c6c6c6","strokeWidth":1.5},"encoding":{"x":{"datum":0},"y":{"datum":-4},"y2":{"datum":1.1}}},
{"data":{"name":"up_xm"},"mark":{"type":"rule","color":"#c6c6c6","strokeWidth":1},"encoding":{"x":{"field":"x","type":"quantitative"},"y":{"datum":0},"y2":{"datum":-0.08}}},
{"data":{"name":"up_ym"},"mark":{"type":"rule","color":"#c6c6c6","strokeWidth":1},"encoding":{"y":{"field":"y","type":"quantitative"},"x":{"datum":-0.04},"x2":{"datum":0}}},
{"data":{"name":"up_xt"},"mark":{"type":"text","dy":14,"fontSize":13,"color":"#222"},"encoding":{"x":{"field":"x","type":"quantitative"},"y":{"datum":0},"text":{"field":"t"}}},
{"data":{"name":"up_yt"},"mark":{"type":"text","dx":-10,"align":"right","baseline":"middle","fontSize":13,"color":"#222"},"encoding":{"y":{"field":"y","type":"quantitative"},"x":{"datum":0},"text":{"field":"t"}}},
{"data":{"name":"up"},"mark":{"type":"circle","size":45,"opacity":1,"fill":"#d9d9d9","stroke":"#a3a3a3","strokeWidth":0.7},"encoding":{"x":{"field":"x","type":"quantitative","scale":{"domain":[-2,2],"nice":false,"zero":false},"axis":{"title":"LOG OR INT aPU.1KO UP","titleX":186,"titleY":17}},"y":{"field":"y","type":"quantitative","scale":{"domain":[-4,1.2],"nice":false,"zero":false},"axis":{"title":"LOG₁₀(-LOG₁₀ P) INT aPU.1KO UP","titleX":-11,"titleY":114}}}},
{"data":{"name":"upq"},"mark":{"type":"circle","size":45,"opacity":1,"fill":"#dcdcdc","stroke":"#e2735f","strokeWidth":1},"encoding":{"x":{"field":"x","type":"quantitative"},"y":{"field":"y","type":"quantitative"}}},
{"data":{"name":"d_ln"},"mark":{"type":"rule","color":"#333","strokeWidth":0.7},"encoding":{"x":{"field":"x","type":"quantitative"},"y":{"field":"y","type":"quantitative"},"x2":{"field":"x2"},"y2":{"field":"y2"}}},
{"data":{"name":"d_y"},"mark":{"type":"circle","size":50,"opacity":1,"fill":"#ffea00","stroke":"#3a3a3a","strokeWidth":0.8},"encoding":{"x":{"field":"x","type":"quantitative"},"y":{"field":"y","type":"quantitative"}}},
{"data":{"name":"d_lab"},"transform":[{"filter":"datum.s=='L'"}],"mark":{"type":"text","align":"left","baseline":"middle","fontSize":9,"color":"#222"},"encoding":{"x":{"field":"x","type":"quantitative"},"y":{"field":"y","type":"quantitative"},"text":{"field":"label"}}},
{"data":{"name":"d_lab"},"transform":[{"filter":"datum.s=='R'"}],"mark":{"type":"text","align":"right","baseline":"middle","fontSize":9,"color":"#222"},"encoding":{"x":{"field":"x","type":"quantitative"},"y":{"field":"y","type":"quantitative"},"text":{"field":"label"}}},
{"mark":{"type":"rect","fill":"white","stroke":"#444","strokeWidth":0.8},"encoding":{"x":{"datum":0.1},"x2":{"datum":1.716},"y":{"datum":-1.75},"y2":{"datum":-4.0}}},
{"mark":{"type":"circle","size":45,"opacity":1,"fill":"#dcdcdc","stroke":"#e2735f","strokeWidth":1},"encoding":{"x":{"datum":0.218},"y":{"datum":-2.025}}},
{"mark":{"type":"text","align":"left","baseline":"middle","fontSize":9,"color":"#222"},"encoding":{"x":{"datum":0.276},"y":{"datum":-2.025},"text":{"value":"aPU.1KO UP Q<0.05 NODES"}}},
{"mark":{"type":"circle","size":50,"opacity":1,"fill":"#ffea00","stroke":"#3a3a3a","strokeWidth":0.8},"encoding":{"x":{"datum":0.218},"y":{"datum":-2.39}}},
{"mark":{"type":"text","align":"left","baseline":"middle","fontSize":9,"color":"#222"},"encoding":{"x":{"datum":0.276},"y":{"datum":-2.39},"text":{"value":"IGT NODES"}}},
{"mark":{"type":"text","align":"left","baseline":"middle","fontSize":9,"fontWeight":"bold","color":"#222"},"encoding":{"x":{"datum":0.167},"y":{"datum":-2.81},"text":{"value":"Hypergeometric test"}}},
{"mark":{"type":"rule","color":"#333","strokeWidth":0.8},"encoding":{"x":{"datum":0.16},"x2":{"datum":1.19},"y":{"datum":-2.94}}},
{"mark":{"type":"circle","size":50,"opacity":1,"fill":"#ffea00","stroke":"#3a3a3a","strokeWidth":0.8},"encoding":{"x":{"datum":0.206},"y":{"datum":-3.23}}},
{"mark":{"type":"text","align":"left","baseline":"middle","fontSize":9,"color":"#222"},"encoding":{"x":{"datum":0.257},"y":{"datum":-3.23},"text":{"value":"v"}}},
{"mark":{"type":"circle","size":45,"opacity":1,"fill":"#dcdcdc","stroke":"#e2735f","strokeWidth":1},"encoding":{"x":{"datum":0.366},"y":{"datum":-3.23}}},
{"mark":{"type":"text","align":"left","baseline":"middle","fontSize":9,"color":"#222"},"encoding":{"x":{"datum":0.43},"y":{"datum":-3.23},"text":{"value":"top 10"}}},
{"mark":{"type":"text","align":"left","baseline":"middle","fontSize":9,"color":"#222"},"encoding":{"x":{"datum":0.167},"y":{"datum":-3.5},"text":{"value":"Odds Ratio = 11"}}},
{"mark":{"type":"text","align":"left","baseline":"middle","fontSize":9,"fontStyle":"italic","color":"#222"},"encoding":{"x":{"datum":0.167},"y":{"datum":-3.77},"text":{"value":"P"}}},
{"mark":{"type":"text","align":"left","baseline":"middle","fontSize":9,"dx":8.5,"color":"#222"},"encoding":{"x":{"datum":0.167},"y":{"datum":-3.77},"text":{"value":"= 4E-05"}}}
]}
]
}
